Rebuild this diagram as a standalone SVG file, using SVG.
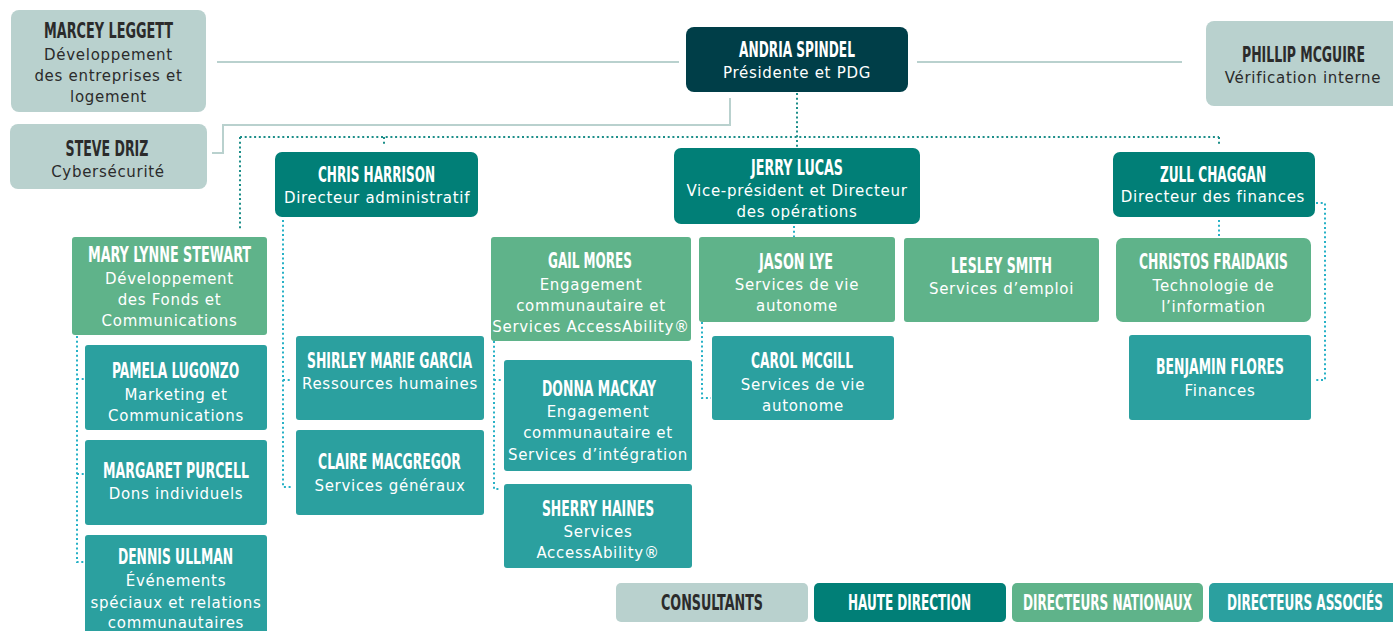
<svg xmlns="http://www.w3.org/2000/svg" width="1393" height="631" viewBox="0 0 1393 631">
<style>
.bg{fill:#ffffff}
.con{fill:#b9d1ce}
.hd{fill:#017f77}
.ceo{fill:#003e48}
.dn{fill:#5fb38a}
.da{fill:#2ba09f}
.nm{font-family:"DejaVu Sans Condensed","DejaVu Sans",sans-serif;font-stretch:condensed;font-weight:bold;font-size:22px;fill:#ffffff;text-anchor:middle}
.sb{font-family:"DejaVu Sans","Noto Sans",sans-serif;font-size:15px;letter-spacing:0.7px;fill:#ffffff;text-anchor:middle}
.dk{fill:#2b2b2b}
.solid{fill:none;stroke:#b9d1ce;stroke-width:2}
.dotT{fill:none;stroke:#1c8e89;stroke-width:2;stroke-dasharray:2 2.7}
.dotC{fill:none;stroke:#27b1c6;stroke-width:2;stroke-dasharray:2 2.7}
</style>
<rect class="bg" x="0" y="0" width="1393" height="631"/>

<g id="connectors">
<path class="solid" d="M217,62 H679"/>
<path class="solid" d="M917,62 H1182"/>
<path class="solid" d="M212,153 H223 V125 H730 V98"/>
<path class="dotT" d="M240,137 H1219"/>
<path class="dotT" d="M240,137 V231"/>
<path class="dotT" d="M384,137 V146"/>
<path class="dotT" d="M797,93 V147"/>
<path class="dotT" d="M1219,137 V146"/>
<path class="dotC" d="M794,226 V237"/>
<path class="dotC" d="M1219,220 V237"/>
<path class="dotC" d="M1316,203 H1325 V380 H1316"/>
<path class="dotC" d="M283,220 V487 H292 M283,380 H291"/>
<path class="dotC" d="M77,336 V562 H84 M77,379 H84 M77,474 H84"/>
<path class="dotC" d="M494,341 V489 H501 M494,380 H501"/>
<path class="dotC" d="M702,322 V398 H711"/>
</g>

<g id="marcey">
<rect class="con" x="11" y="10" width="195" height="102" rx="8"/>
<text class="nm dk" transform="translate(108.5 38) scale(0.6 1)" textLength="215" lengthAdjust="spacingAndGlyphs">MARCEY LEGGETT</text>
<text class="sb dk" x="108.5" y="60">Développement</text>
<text class="sb dk" x="108.5" y="81">des entreprises et</text>
<text class="sb dk" x="108.5" y="102">logement</text>
</g>

<g id="steve">
<rect class="con" x="10" y="124" width="197" height="65" rx="8"/>
<text class="nm dk" transform="translate(107 156) scale(0.6 1)" textLength="138" lengthAdjust="spacingAndGlyphs">STEVE DRIZ</text>
<text class="sb dk" x="108" y="177">Cybersécurité</text>
</g>

<g id="andria">
<rect class="ceo" x="686" y="27" width="222" height="65" rx="8"/>
<text class="nm" transform="translate(797 57) scale(0.6 1)" textLength="193" lengthAdjust="spacingAndGlyphs">ANDRIA SPINDEL</text>
<text class="sb" x="797" y="78">Présidente et PDG</text>
</g>

<g id="phillip">
<rect class="con" x="1206" y="21" width="200" height="85" rx="8"/>
<text class="nm dk" transform="translate(1303.5 62) scale(0.6 1)" textLength="205" lengthAdjust="spacingAndGlyphs">PHILLIP MCGUIRE</text>
<text class="sb dk" x="1303" y="83">Vérification interne</text>
</g>

<g id="chris">
<rect class="hd" x="275" y="152" width="203" height="65" rx="7"/>
<text class="nm" transform="translate(376.5 182) scale(0.6 1)" textLength="195" lengthAdjust="spacingAndGlyphs">CHRIS HARRISON</text>
<text class="sb" x="377" y="203">Directeur administratif</text>
</g>

<g id="jerry">
<rect class="hd" x="674" y="148" width="246" height="76" rx="7"/>
<text class="nm" transform="translate(797 175) scale(0.6 1)" textLength="153" lengthAdjust="spacingAndGlyphs">JERRY LUCAS</text>
<text class="sb" x="797" y="196">Vice-président et Directeur</text>
<text class="sb" x="797" y="217">des opérations</text>
</g>

<g id="zull">
<rect class="hd" x="1113" y="152" width="202" height="65" rx="7"/>
<text class="nm" transform="translate(1213 182) scale(0.6 1)" textLength="177" lengthAdjust="spacingAndGlyphs">ZULL CHAGGAN</text>
<text class="sb" x="1213" y="202">Directeur des finances</text>
</g>

<g id="marylynne">
<rect class="dn" x="72" y="237" width="195" height="98" rx="3"/>
<text class="nm" transform="translate(169.5 262) scale(0.6 1)" textLength="272" lengthAdjust="spacingAndGlyphs">MARY LYNNE STEWART</text>
<text class="sb" x="169.5" y="284">Développement</text>
<text class="sb" x="169.5" y="305">des Fonds et</text>
<text class="sb" x="169.5" y="326">Communications</text>
</g>

<g id="pamela">
<rect class="da" x="85" y="345" width="182" height="85" rx="3"/>
<text class="nm" transform="translate(175.5 378) scale(0.6 1)" textLength="212" lengthAdjust="spacingAndGlyphs">PAMELA LUGONZO</text>
<text class="sb" x="176" y="400">Marketing et</text>
<text class="sb" x="176" y="421">Communications</text>
</g>

<g id="margaret">
<rect class="da" x="85" y="440" width="182" height="85" rx="3"/>
<text class="nm" transform="translate(176 478) scale(0.6 1)" textLength="243" lengthAdjust="spacingAndGlyphs">MARGARET PURCELL</text>
<text class="sb" x="176" y="499">Dons individuels</text>
</g>

<g id="dennis">
<rect class="da" x="85" y="535" width="182" height="105" rx="3"/>
<text class="nm" transform="translate(175.5 564) scale(0.6 1)" textLength="192" lengthAdjust="spacingAndGlyphs">DENNIS ULLMAN</text>
<text class="sb" x="176" y="586">Événements</text>
<text class="sb" x="176" y="608">spéciaux et relations</text>
<text class="sb" x="176" y="628">communautaires</text>
</g>

<g id="shirley">
<rect class="da" x="296" y="336" width="188" height="84" rx="3"/>
<text class="nm" transform="translate(389.5 368) scale(0.6 1)" textLength="275" lengthAdjust="spacingAndGlyphs">SHIRLEY MARIE GARCIA</text>
<text class="sb" x="390" y="389">Ressources humaines</text>
</g>

<g id="claire">
<rect class="da" x="296" y="430" width="188" height="85" rx="3"/>
<text class="nm" transform="translate(389.5 469) scale(0.6 1)" textLength="238" lengthAdjust="spacingAndGlyphs">CLAIRE MACGREGOR</text>
<text class="sb" x="390" y="491">Services généraux</text>
</g>

<g id="gail">
<rect class="dn" x="491" y="237" width="200" height="104" rx="3"/>
<text class="nm" transform="translate(590 268) scale(0.6 1)" textLength="140" lengthAdjust="spacingAndGlyphs">GAIL MORES</text>
<text class="sb" x="591" y="290">Engagement</text>
<text class="sb" x="591" y="311">communautaire et</text>
<text class="sb" x="591" y="332">Services AccessAbility®</text>
</g>

<g id="donna">
<rect class="da" x="504" y="360" width="188" height="111" rx="3"/>
<text class="nm" transform="translate(599 396) scale(0.6 1)" textLength="190" lengthAdjust="spacingAndGlyphs">DONNA MACKAY</text>
<text class="sb" x="598" y="417">Engagement</text>
<text class="sb" x="598" y="438">communautaire et</text>
<text class="sb" x="598" y="460">Services d’intégration</text>
</g>

<g id="sherry">
<rect class="da" x="504" y="484" width="188" height="84" rx="3"/>
<text class="nm" transform="translate(598 516) scale(0.6 1)" textLength="187" lengthAdjust="spacingAndGlyphs">SHERRY HAINES</text>
<text class="sb" x="598" y="537">Services</text>
<text class="sb" x="598" y="558">AccessAbility®</text>
</g>

<g id="jason">
<rect class="dn" x="699" y="237" width="196" height="85" rx="3"/>
<text class="nm" transform="translate(796 269) scale(0.6 1)" textLength="123" lengthAdjust="spacingAndGlyphs">JASON LYE</text>
<text class="sb" x="797" y="290">Services de vie</text>
<text class="sb" x="797" y="311">autonome</text>
</g>

<g id="carol">
<rect class="da" x="712" y="336" width="182" height="84" rx="3"/>
<text class="nm" transform="translate(802 368) scale(0.6 1)" textLength="170" lengthAdjust="spacingAndGlyphs">CAROL MCGILL</text>
<text class="sb" x="803" y="390">Services de vie</text>
<text class="sb" x="803" y="411">autonome</text>
</g>

<g id="lesley">
<rect class="dn" x="904" y="238" width="195" height="84" rx="3"/>
<text class="nm" transform="translate(1001.5 273) scale(0.6 1)" textLength="168" lengthAdjust="spacingAndGlyphs">LESLEY SMITH</text>
<text class="sb" x="1001.5" y="294">Services d’emploi</text>
</g>

<g id="christos">
<rect class="dn" x="1116" y="238" width="195" height="84" rx="7"/>
<text class="nm" transform="translate(1213.5 269) scale(0.6 1)" textLength="248" lengthAdjust="spacingAndGlyphs">CHRISTOS FRAIDAKIS</text>
<text class="sb" x="1213.5" y="291">Technologie de</text>
<text class="sb" x="1213.5" y="312">l’information</text>
</g>

<g id="benjamin">
<rect class="da" x="1129" y="335" width="182" height="85" rx="3"/>
<text class="nm" transform="translate(1220 374) scale(0.6 1)" textLength="213" lengthAdjust="spacingAndGlyphs">BENJAMIN FLORES</text>
<text class="sb" x="1220" y="396">Finances</text>
</g>

<g id="legend">
<rect class="con" x="616" y="583" width="192" height="39" rx="5"/>
<text class="nm dk" transform="translate(712 610) scale(0.6 1)" textLength="170" lengthAdjust="spacingAndGlyphs">CONSULTANTS</text>
<rect class="hd" x="814" y="583" width="192" height="39" rx="5"/>
<text class="nm" transform="translate(909.5 610) scale(0.6 1)" textLength="205" lengthAdjust="spacingAndGlyphs">HAUTE DIRECTION</text>
<rect class="dn" x="1012" y="583" width="191" height="39" rx="5"/>
<text class="nm" transform="translate(1107.5 610) scale(0.6 1)" textLength="282" lengthAdjust="spacingAndGlyphs">DIRECTEURS NATIONAUX</text>
<rect class="da" x="1209" y="583" width="190" height="39" rx="5"/>
<text class="nm" transform="translate(1305 610) scale(0.6 1)" textLength="260" lengthAdjust="spacingAndGlyphs">DIRECTEURS ASSOCIÉS</text>
</g>
</svg>
